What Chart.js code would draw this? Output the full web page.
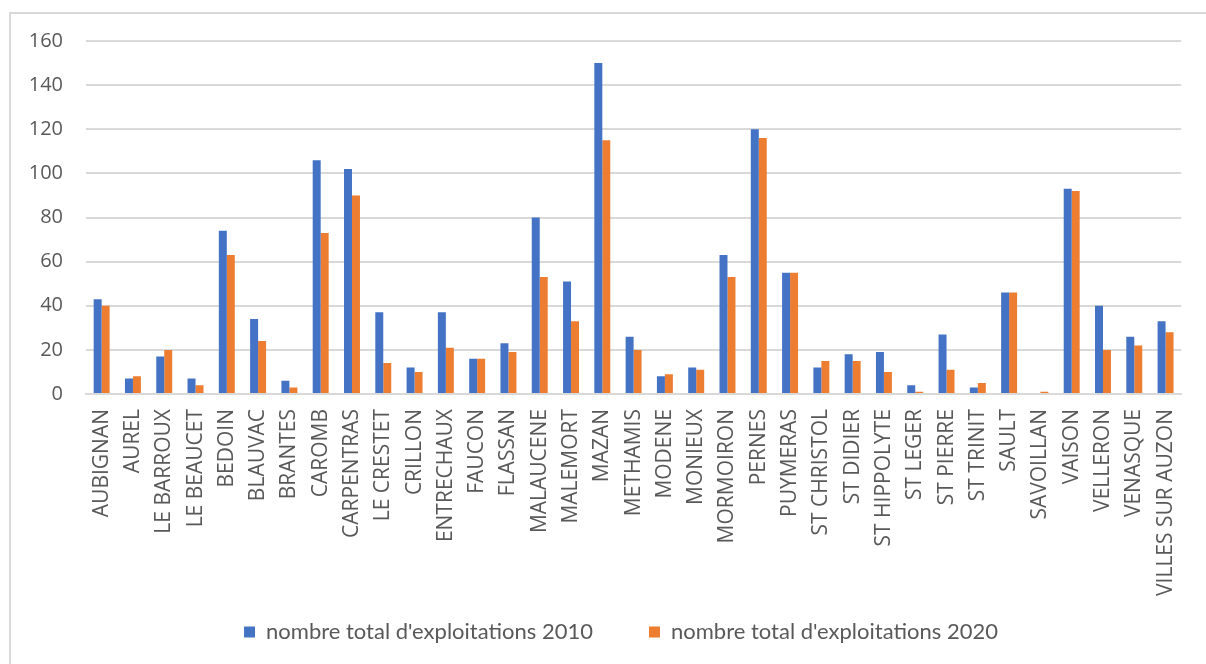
<!DOCTYPE html>
<html>
<head>
<meta charset="utf-8">
<script src="https://cdn.jsdelivr.net/npm/chart.js@4"></script>
<style>
  html, body { margin: 0; padding: 0; background: #ffffff; }
  #wrap { position: relative; width: 1206px; height: 664px; }
</style>
</head>
<body>
<div id="wrap"><canvas id="chart" width="1206" height="664"></canvas></div>
<script>
// Communes
const communes = [
  "AUBIGNAN", "AUREL", "LE BARROUX", "LE BEAUCET", "BEDOIN", "BLAUVAC", "BRANTES",
  "CAROMB", "CARPENTRAS", "LE CRESTET", "CRILLON", "ENTRECHAUX", "FAUCON", "FLASSAN",
  "MALAUCENE", "MALEMORT", "MAZAN", "METHAMIS", "MODENE", "MONIEUX", "MORMOIRON",
  "PERNES", "PUYMERAS", "ST CHRISTOL", "ST DIDIER", "ST HIPPOLYTE", "ST LEGER",
  "ST PIERRE", "ST TRINIT", "SAULT", "SAVOILLAN", "VAISON", "VELLERON", "VENASQUE",
  "VILLES SUR AUZON"
];

// Nombre total d'exploitations par commune
const exploitations2010 = [
  43, 7, 17, 7, 74, 34, 6,
  106, 102, 37, 12, 37, 16, 23,
  80, 51, 150, 26, 8, 12, 63,
  120, 55, 12, 18, 19, 4,
  27, 3, 46, 0, 93, 40, 26,
  33
];
const exploitations2020 = [
  40, 8, 20, 4, 63, 24, 3,
  73, 90, 14, 10, 21, 16, 19,
  53, 33, 115, 20, 9, 11, 53,
  116, 55, 15, 15, 10, 1,
  11, 5, 46, 1, 92, 20, 22,
  28
];

const seriesNames = ["nombre total d'exploitations 2010", "nombre total d'exploitations 2020"];
const yTicks = [0, 20, 40, 60, 80, 100, 120, 140, 160];

const textColor = "#595959";
const gridColor = "#d9d9d9";

// Light frame around the chart (left and top edges)
const framePlugin = {
  id: "frame",
  beforeDraw(chart) {
    const ctx = chart.ctx;
    ctx.save();
    ctx.strokeStyle = "#d9d9d9";
    ctx.lineWidth = 2;
    ctx.beginPath();
    ctx.moveTo(10, 664);
    ctx.lineTo(10, 13);
    ctx.lineTo(1206, 13);
    ctx.stroke();
    ctx.restore();
  }
};

// Let tick labels run past their scale box (long rotated names, wide y labels)
const unclipLabels = {
  id: "unclipLabels",
  beforeDraw(chart) {
    Object.values(chart.scales).forEach(s => { s._computeLabelArea = () => undefined; });
  }
};

new Chart(document.getElementById("chart"), {
  type: "bar",
  data: {
    labels: communes,
    datasets: [
      {
        label: seriesNames[0],
        data: exploitations2010,
        backgroundColor: "#4472C4",
        categoryPercentage: 0.51,
        barPercentage: 1.0
      },
      {
        label: seriesNames[1],
        data: exploitations2020,
        backgroundColor: "#ED7D31",
        categoryPercentage: 0.51,
        barPercentage: 1.0
      }
    ]
  },
  options: {
    responsive: false,
    animation: false,
    layout: { padding: { left: 52, right: 16, top: 41, bottom: 11 } },
    plugins: {
      tooltip: { enabled: false },
      legend: {
        position: "bottom",
        labels: {
          color: textColor,
          font: { family: "Lato", size: 22 },
          boxWidth: 11,
          boxHeight: 11,
          padding: 56
        }
      }
    },
    scales: {
      x: {
        grid: { display: false, drawTicks: false },
        border: { display: true, color: gridColor, width: 2 },
        ticks: {
          color: textColor,
          font: { family: "Open Sans", size: 21 },
          minRotation: 90,
          maxRotation: 90,
          autoSkip: false,
          padding: 15
        },
        afterFit(scale) { scale.height = 171; }
      },
      y: {
        min: 0,
        max: 160,
        afterBuildTicks(scale) { scale.ticks = yTicks.map(v => ({ value: v })); },
        grid: { color: gridColor, lineWidth: 2, drawTicks: false },
        border: { display: false },
        ticks: {
          color: textColor,
          font: { family: "Open Sans", size: 20 },
          padding: 23
        },
        afterFit(scale) { scale.width = 34; }
      }
    }
  },
  plugins: [framePlugin, unclipLabels]
});
</script>
</body>
</html>
